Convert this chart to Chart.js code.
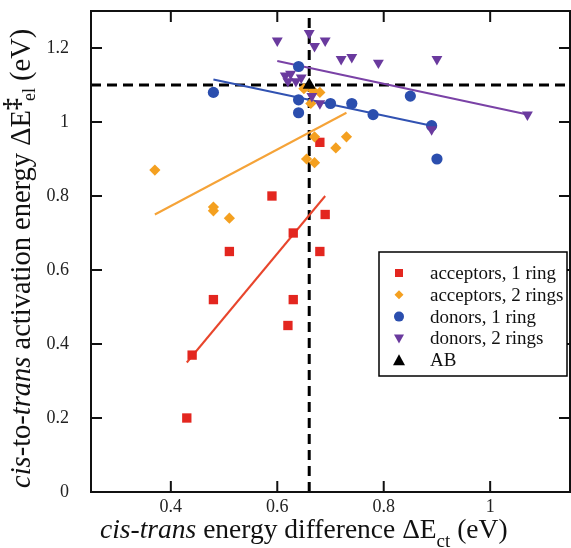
<!DOCTYPE html>
<html><head><meta charset="utf-8">
<script src="https://cdn.jsdelivr.net/npm/chart.js@4.4.1/dist/chart.umd.min.js"></script>
<style>html,body{margin:0;padding:0;background:#fff}#wrap{width:571px;height:548px;position:relative}</style>
</head><body><div id="wrap"><canvas id="c" width="571" height="548"></canvas></div>
<script>
// ---- data ----
const xTicks = [0.4, 0.6, 0.8, 1];
const yTicks = [0, 0.2, 0.4, 0.6, 0.8, 1, 1.2];
const seriesNames = ['acceptors, 1 ring', 'acceptors, 2 rings', 'donors, 1 ring', 'donors, 2 rings', 'AB'];

const acc1X = [0.43, 0.44, 0.48, 0.51, 0.59, 0.62, 0.63, 0.63, 0.68, 0.69, 0.68];
const acc1Y = [0.20, 0.37, 0.52, 0.65, 0.80, 0.45, 0.52, 0.70, 0.65, 0.75, 0.945];

const acc2X = [0.37, 0.48, 0.48, 0.51, 0.67, 0.655, 0.67, 0.71, 0.73, 0.65, 0.667, 0.68, 0.663];
const acc2Y = [0.87, 0.77, 0.76, 0.74, 0.96, 0.90, 0.89, 0.93, 0.96, 1.09, 1.085, 1.08, 1.05];

const don1X = [0.48, 0.64, 0.64, 0.64, 0.70, 0.74, 0.78, 0.85, 0.89, 0.90];
const don1Y = [1.08, 1.15, 1.06, 1.025, 1.05, 1.05, 1.02, 1.07, 0.99, 0.90];

const don2X = [0.60, 0.66, 0.67, 0.69, 0.72, 0.74, 0.79, 0.90, 1.07, 0.89, 0.615, 0.625, 0.635, 0.645, 0.62, 0.665, 0.68];
const don2Y = [1.22, 1.24, 1.205, 1.22, 1.17, 1.175, 1.16, 1.17, 1.02, 0.98, 1.125, 1.13, 1.11, 1.12, 1.11, 1.07, 1.05];

const abX = [0.66];
const abY = [1.10];

const fitAcc1X = [0.43, 0.69], fitAcc1Y = [0.35, 0.80];
const fitAcc2X = [0.37, 0.73], fitAcc2Y = [0.75, 1.025];
const fitDon1X = [0.48, 0.89], fitDon1Y = [1.115, 0.99];
const fitDon2X = [0.60, 1.07], fitDon2Y = [1.165, 1.02];

const refLineX = 0.66;  // vertical dashed line (AB)
const refLineY = 1.10;  // horizontal dashed line (AB)

// ---- styles ----
const C = { red: '#e3261f', orange: '#f4a020', blue: '#2b4eae', purple: '#6a3a9e', black: '#000',
            redL: '#e8452c', orangeL: '#f5a338', blueL: '#3152b2', purpleL: '#7a42a6' };
const pts = (xs, ys) => xs.map((x, i) => ({ x, y: ys[i] }));

const scatter = (label, xs, ys, color, style, r, rot) => ({
  type: 'scatter', label, data: pts(xs, ys), pointStyle: style, pointRadius: r, pointHoverRadius: r,
  rotation: rot || 0, backgroundColor: color, borderColor: color, borderWidth: 0, order: 1
});
const fit = (xs, ys, color) => ({
  type: 'line', label: '_fit', data: pts(xs, ys), borderColor: color, borderWidth: 2,
  pointRadius: 0, fill: false, tension: 0, order: 2
});

const datasets = [
  scatter(seriesNames[4], abX, abY, C.black, 'triangle', 7.5),
  scatter(seriesNames[3], don2X, don2Y, C.purple, 'triangle', 6.3, 180),
  scatter(seriesNames[2], don1X, don1Y, C.blue, 'circle', 5.6),
  scatter(seriesNames[1], acc2X, acc2Y, C.orange, 'rectRot', 5.6),
  scatter(seriesNames[0], acc1X, acc1Y, C.red, 'rect', 6.6),
  fit(fitAcc1X, fitAcc1Y, C.redL),
  fit(fitAcc2X, fitAcc2Y, C.orangeL),
  fit(fitDon1X, fitDon1Y, C.blueL),
  fit(fitDon2X, fitDon2Y, C.purpleL)
];

const SERIF = '"Liberation Serif", "DejaVu Serif", serif';

function richText(ctx, parts, x, y, base) {
  let cx = x;
  for (const p of parts) {
    const size = p.size || base;
    ctx.font = (p.it ? 'italic ' : '') + (p.bold ? 'bold ' : '') + size + 'px ' + SERIF;
    ctx.fillText(p.t, cx, y + (p.dy || 0));
    cx += ctx.measureText(p.t).width * (p.adv == null ? 1 : p.adv);
  }
}

const bgPlugin = {
  id: 'bg',
  beforeDraw(chart) {
    const ctx = chart.ctx; ctx.save(); ctx.fillStyle = '#fff';
    ctx.fillRect(0, 0, chart.width, chart.height); ctx.restore();
  }
};

const refPlugin = {
  id: 'refLines',
  beforeDatasetsDraw(chart) {
    const { ctx, chartArea: a, scales: { x, y } } = chart;
    ctx.save();
    ctx.strokeStyle = '#000'; ctx.lineWidth = 3; ctx.setLineDash([10, 6]);
    const px = x.getPixelForValue(refLineX), py = y.getPixelForValue(refLineY);
    ctx.beginPath(); ctx.moveTo(px, a.bottom); ctx.lineTo(px, a.top); ctx.stroke();
    ctx.beginPath(); ctx.moveTo(a.left, py); ctx.lineTo(a.right, py); ctx.stroke();
    ctx.restore();
  }
};

const framePlugin = {
  id: 'frame',
  afterDraw(chart) {
    const { ctx, chartArea: a, scales: { x, y } } = chart;
    ctx.save();
    ctx.strokeStyle = '#111'; ctx.lineWidth = 2; ctx.setLineDash([]);
    ctx.strokeRect(a.left, a.top, a.right - a.left, a.bottom - a.top);
    const tl = 11;
    ctx.beginPath();
    xTicks.forEach(v => {
      const p = x.getPixelForValue(v);
      ctx.moveTo(p, a.bottom); ctx.lineTo(p, a.bottom - tl);
      ctx.moveTo(p, a.top); ctx.lineTo(p, a.top + tl);
    });
    yTicks.forEach(v => {
      const p = y.getPixelForValue(v);
      ctx.moveTo(a.left, p); ctx.lineTo(a.left + tl, p);
      ctx.moveTo(a.right, p); ctx.lineTo(a.right - tl, p);
    });
    ctx.stroke();

    // legend
    const lx = 379, ly = 252, lw = 188, lh = 124;
    ctx.fillStyle = '#fff'; ctx.fillRect(lx, ly, lw, lh);
    ctx.strokeStyle = '#000'; ctx.lineWidth = 1.5; ctx.strokeRect(lx, ly, lw, lh);
    const cols = [C.red, C.orange, C.blue, C.purple, C.black];
    ctx.textBaseline = 'middle'; ctx.textAlign = 'left';
    for (let i = 0; i < 5; i++) {
      const cy = ly + 21 + i * 21.8, mx = 399;
      ctx.fillStyle = cols[i];
      ctx.beginPath();
      if (i === 0) ctx.rect(mx - 4, cy - 4, 8, 8);
      else if (i === 1) { ctx.moveTo(mx, cy - 4.5); ctx.lineTo(mx + 4.5, cy); ctx.lineTo(mx, cy + 4.5); ctx.lineTo(mx - 4.5, cy); ctx.closePath(); }
      else if (i === 2) ctx.arc(mx, cy, 5, 0, Math.PI * 2);
      else if (i === 3) { ctx.moveTo(mx - 5, cy - 4); ctx.lineTo(mx + 5, cy - 4); ctx.lineTo(mx, cy + 5); ctx.closePath(); }
      else { ctx.moveTo(mx - 6, cy + 5); ctx.lineTo(mx + 6, cy + 5); ctx.lineTo(mx, cy - 6); ctx.closePath(); }
      ctx.fill();
      ctx.fillStyle = '#111';
      ctx.font = '19px ' + SERIF;
      ctx.fillText(seriesNames[i], 430, cy + 1);
    }

    // axis titles
    ctx.fillStyle = '#111'; ctx.textBaseline = 'alphabetic'; ctx.textAlign = 'left';
    richText(ctx, [
      { t: 'cis-trans', it: true }, { t: ' energy difference \u0394E' },
      { t: 'ct', size: 19, dy: 9 }, { t: ' (eV)' }
    ], 100, 538, 27.5);

    ctx.save();
    ctx.translate(30, 488); ctx.rotate(-Math.PI / 2);
    richText(ctx, [
      { t: 'cis', it: true }, { t: '-to-' }, { t: 'trans', it: true },
      { t: ' activation energy \u0394E' },
      { t: '\u2021', bold: true, size: 24, dy: -11, adv: 0.75 },
      { t: 'el', size: 18, dy: 5 }, { t: ' (eV)' }
    ], 0, 0, 28.5);
    ctx.restore();
    ctx.restore();
  }
};

new Chart(document.getElementById('c'), {
  data: { datasets },
  options: {
    responsive: false, animation: false, devicePixelRatio: 1,
    layout: { autoPadding: false, padding: { top: 11, right: 1, left: 0, bottom: 0 } },
    plugins: { legend: { display: false }, tooltip: { enabled: false } },
    scales: {
      x: {
        type: 'linear', min: 0.25, max: 1.15,
        afterBuildTicks: s => { s.ticks = xTicks.map(v => ({ value: v })); },
        afterFit: s => { s.height = 56; s.paddingLeft = 0; s.paddingRight = 0; },
        grid: { display: false, drawTicks: false }, border: { display: false },
        ticks: { font: { family: SERIF, size: 18 }, color: '#222', padding: 4, maxRotation: 0,
                 callback: v => String(v) }
      },
      y: {
        type: 'linear', min: 0, max: 1.3,
        afterBuildTicks: s => { s.ticks = yTicks.map(v => ({ value: v })); },
        afterFit: s => { s.width = 91; s.paddingTop = 0; s.paddingBottom = 0; },
        grid: { display: false, drawTicks: false }, border: { display: false },
        ticks: { font: { family: SERIF, size: 18 }, color: '#222', padding: 22,
                 callback: v => String(v) }
      }
    }
  },
  plugins: [bgPlugin, refPlugin, framePlugin]
});
</script></body></html>
